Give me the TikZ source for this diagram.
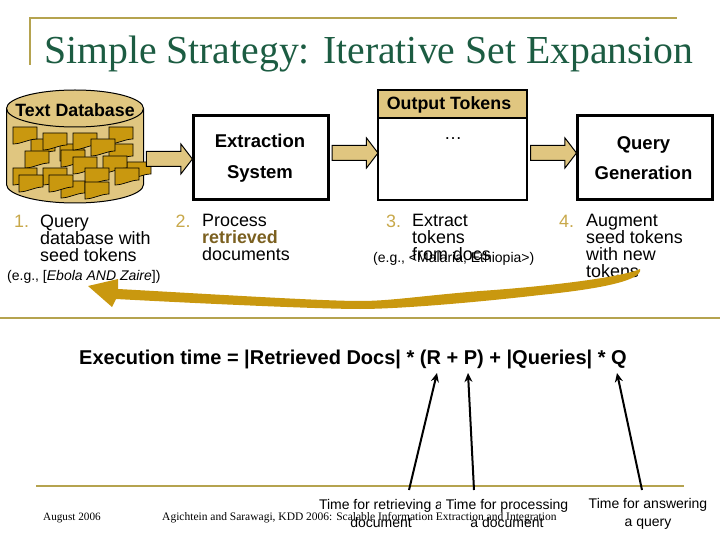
\documentclass[tikz,border=0pt]{standalone}
\usepackage{fontspec}
\setmainfont{Liberation Sans}
\newfontfamily\slidefont{Liberation Serif}
\usetikzlibrary{positioning,arrows.meta,shapes.arrows}
\definecolor{titlegreen}{HTML}{1C5C42}
\definecolor{rulegold}{HTML}{B5A34F}
\definecolor{paletan}{HTML}{E0C680}
\definecolor{docgold}{HTML}{C9980F}
\definecolor{numgold}{HTML}{C8A84A}
\definecolor{wordbrown}{HTML}{7B6020}
\newcommand{\boxy}{157.5}
\newcommand{\listfont}{\lineskiplimit=-10pt\fontsize{17.9}{17}\selectfont}
\newcommand{\smallfont}{\lineskiplimit=-10pt\fontsize{14}{18}\selectfont}

\begin{document}
\begin{tikzpicture}[x=1pt, y=-1pt]
  \tikzset{rulegoldline/.style={draw=rulegold, line width=2pt}}
  \tikzset{sysbox/.style={draw, line width=3pt, minimum width=135pt, minimum height=84pt, inner sep=0pt}}
  \tikzset{syslabel/.style={inner sep=0pt, align=center, font=\bfseries\fontsize{18.5}{30.5}\selectfont}}
  \tikzset{blockarrow/.style={single arrow, draw, fill=paletan, line width=1pt, inner sep=7pt, single arrow head extend=7.5pt, single arrow tip angle=105, minimum height=46pt, outer sep=0pt, xshift=-1.5pt}}
  \tikzset{listtext/.style={anchor=north west, inner sep=0pt, align=left, font=\listfont}}
  \tikzset{listnum/.style={anchor=base west, inner sep=0pt, text=numgold, font=\listfont}}
  \tikzset{example/.style={anchor=base west, inner sep=0pt, font=\smallfont}}
  \tikzset{timelabel/.style={anchor=north, inner sep=0pt, align=center, font=\smallfont}}
  \tikzset{footer/.style={anchor=base west, inner sep=0pt, font=\slidefont\fontsize{11.2}{13}\selectfont}}
  \tikzset{costarrow/.style={draw, line width=2pt, -{Stealth[length=9pt, width=8pt]}}}
  \useasboundingbox (0,0) rectangle (720,540);

  \coordinate (frameleft) at (30,65);
  \coordinate (framecorner) at (30,18);
  \coordinate (frameright) at (677,18);
  \draw[rulegoldline] (frameleft) -- (framecorner) -- (frameright);
  \node[anchor=base west, inner sep=0pt, text=titlegreen, font=\slidefont\fontsize{39.7}{45}\selectfont] (title) at (44,64) {Simple Strategy: Iterative Set Expansion};

  \draw[line width=1pt, fill=paletan] (6.5,108.5) -- (6.5,184.5) arc[start angle=180, end angle=360, x radius=68.5pt, y radius=18.5pt] -- (143.5,108.5) arc[start angle=0, end angle=180, x radius=68.5pt, y radius=18.5pt] -- cycle;
  \draw[line width=1pt] (6.5,108.5) arc[start angle=180, end angle=360, x radius=68.5pt, y radius=18.5pt];
  \coordinate (db) at (144,146.5);
  \node[font=\bfseries\fontsize{17.8}{20}\selectfont, inner sep=0pt] (dblabel) at (75,110.5) {Text Database};
  \foreach \docx/\docy in {31/139, 60/144, 109/144, 127/162, 61/150, 13/127, 43/133, 73/133, 109/127, 91/139, 25/151, 73/157, 103/156, 115/168, 85/168, 61/181, 85/182, 13/168, 43/168, 19/175, 49/175}
    \draw[fill=docgold, line width=0.7pt, shift={(\docx,\docy)}] (0,0) -- (24,0) -- (24,12) .. controls (16,12) and (8,17) .. (0,17) -- cycle;

  \node[sysbox] (extraction) at (261,\boxy) {};
  \node[syslabel] (extractionlabel) at (260,158) {Extraction\\System};
  \node[sysbox] (querygen) at (645,\boxy) {};
  \node[syslabel] (querylabel) at (643.5,158) {Query\\Generation};
  \node[draw, line width=1.2pt, fill=paletan, minimum width=149pt, minimum height=28pt, inner sep=0pt] (tokenhead) at (452.75,104) {};
  \node[draw, line width=2pt, minimum width=149pt, minimum height=110pt, inner sep=0pt] (tokens) at (452.75,145.5) {};
  \node[font=\bfseries\fontsize{17.8}{20}\selectfont, inner sep=0pt] (tokenlabel) at (449,105) {Output Tokens};
  \node[font=\fontsize{18}{20}\selectfont, inner sep=0pt] (dots) at (453,139) {\dots};

  \path (db |- extraction.west) -- (extraction.west) node[midway, blockarrow, yshift=-1.5pt] (arrowdb) {};
  \path (extraction.east) -- (tokens.west |- extraction.east) node[midway, blockarrow, yshift=4.5pt] (arrowext) {};
  \path (tokens.east |- querygen.west) -- (querygen.west) node[midway, blockarrow, yshift=4.5pt] (arrowtok) {};

  \node[listnum] (num1) at (14,228) {1.};
  \node[listtext] (step1) at (40,215) {Query\\database with\\seed tokens};
  \node[example] (eg1) at (7,280) {(e.g., [\textit{Ebola AND Zaire}])};
  \node[listnum] (num2) at (175.5,227) {2.};
  \node[listtext] (step2) at (202,214) {Process\\\textcolor{wordbrown}{\textbf{retrieved}}\\documents};
  \node[listnum] (num3) at (386,227) {3.};
  \node[listtext] (step3) at (412,214) {Extract\\tokens\\from docs};
  \node[example] (eg3) at (373,262.7) {(e.g., <Malaria, Ethiopia>)};
  \node[listnum] (num4) at (559,227) {4.};
  \node[listtext] (step4) at (586,214) {Augment\\seed tokens\\with new\\tokens};

  \coordinate (loopstart) at (640,269);
  \coordinate (looptip) at (88,286);
  \fill[docgold] (loopstart) .. controls (620,278) and (540,287) .. (480,291) .. controls (420,296) and (390,301) .. (360,301) .. controls (320,301) and (200,293.5) .. (118,289) -- (118,279) -- (looptip) -- (112,307) -- (116,299) .. controls (200,303.5) and (320,309) .. (360,309) .. controls (400,309) and (480,302) .. (540,295) .. controls (580,291) and (620,285) .. (634,277) .. controls (638,275) and (641,272) .. (loopstart) -- cycle;

  \coordinate (midruleleft) at (0,318);
  \coordinate (midruleright) at (720,318);
  \draw[rulegoldline] (midruleleft) -- (midruleright);
  \node[anchor=base west, inner sep=0pt, font=\bfseries\fontsize{20}{22}\selectfont] (formula) at (79,364.5) {Execution time = |Retrieved Docs| * (R + P) + |Queries| * Q};

  \coordinate (footruleleft) at (36,485.5);
  \coordinate (footruleright) at (684,485.5);
  \draw[rulegoldline] (footruleleft) -- (footruleright);

  \node[timelabel] (timeR) at (381,499) {Time for retrieving a\\document};
  \node[timelabel, fill=white, inner xsep=5pt] (timeP) at (507,499) {Time for processing\\a document};
  \node[timelabel] (timeQ) at (648,498) {Time for answering\\a query};

  \coordinate (tailR) at (409,490);
  \coordinate (tipR) at (437,373);
  \coordinate (tailP) at (474,490);
  \coordinate (tipP) at (468,373);
  \coordinate (tailQ) at (642,490);
  \coordinate (tipQ) at (617,373);
  \draw[costarrow] (tailR) -- (tipR);
  \draw[costarrow] (tailP) -- (tipP);
  \draw[costarrow] (tailQ) -- (tipQ);

  \node[footer] (date) at (43,520) {August 2006};
  \node[footer, font=\slidefont\fontsize{11.5}{13}\selectfont] (credit) at (162,520) {Agichtein and Sarawagi, KDD 2006: Scalable Information Extraction and Integration};
\end{tikzpicture}
\end{document}
